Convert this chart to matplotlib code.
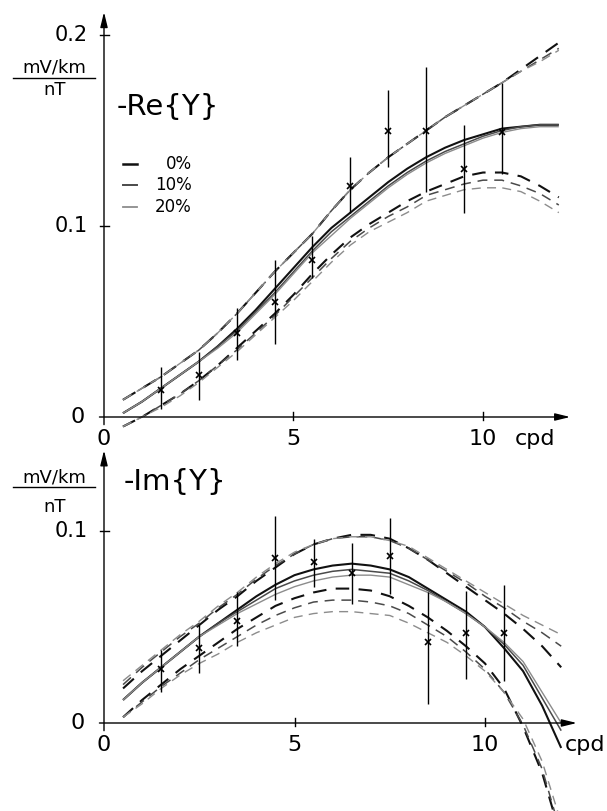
"""Re{Y} / Im{Y} response curves with error bars, two stacked panels."""

import matplotlib.pyplot as plt
from matplotlib.lines import Line2D

W, H = 607, 811

# --- data -----------------------------------------------------------------
X_GRID = [0.5, 1.0, 1.5, 2.0, 2.5, 3.0, 3.5, 4.0, 4.5, 5.0, 5.5, 6.0,
          6.5, 7.0, 7.5, 8.0, 8.5, 9.0, 9.5, 10.0, 10.5, 11.0, 11.5, 12.0]
X_DATA = [1.5, 2.5, 3.5, 4.5, 5.5, 6.5, 7.5, 8.5, 9.5, 10.5]
LEVELS = ["0%", "10%", "20%"]

# top panel: -Re{Y}
re_obs = [0.014, 0.022, 0.044, 0.060, 0.082, 0.121, 0.150, 0.150, 0.130, 0.149]
re_lo = [0.004, 0.009, 0.030, 0.038, 0.073, 0.107, 0.131, 0.118, 0.107, 0.127]
re_hi = [0.026, 0.034, 0.057, 0.082, 0.095, 0.136, 0.171, 0.183, 0.153, 0.175]

re_solid = {
    "0%": [0.002, 0.008, 0.015, 0.022, 0.029, 0.037, 0.046, 0.056, 0.067, 0.078, 0.089, 0.099,
           0.107, 0.115, 0.123, 0.130, 0.136, 0.141, 0.145, 0.148, 0.151, 0.152, 0.153, 0.153],
    "10%": [0.002, 0.008, 0.015, 0.022, 0.029, 0.037, 0.045, 0.055, 0.065, 0.076, 0.087, 0.097,
            0.105, 0.113, 0.121, 0.128, 0.134, 0.139, 0.143, 0.147, 0.150, 0.152, 0.153, 0.153],
    "20%": [0.002, 0.008, 0.015, 0.022, 0.029, 0.036, 0.044, 0.054, 0.064, 0.075, 0.086, 0.095,
            0.104, 0.112, 0.120, 0.127, 0.133, 0.138, 0.142, 0.146, 0.149, 0.151, 0.152, 0.152],
}
re_upper = {
    "0%": [0.009, 0.015, 0.021, 0.028, 0.035, 0.044, 0.054, 0.065, 0.076, 0.086, 0.096, 0.108,
           0.119, 0.128, 0.136, 0.143, 0.150, 0.157, 0.163, 0.169, 0.175, 0.182, 0.189, 0.196],
    "10%": [0.009, 0.015, 0.021, 0.028, 0.035, 0.044, 0.054, 0.065, 0.076, 0.086, 0.096, 0.108,
            0.119, 0.128, 0.136, 0.143, 0.150, 0.157, 0.163, 0.169, 0.175, 0.181, 0.187, 0.193],
    "20%": [0.009, 0.015, 0.021, 0.028, 0.035, 0.044, 0.054, 0.065, 0.076, 0.086, 0.096, 0.108,
            0.119, 0.128, 0.136, 0.143, 0.150, 0.157, 0.163, 0.169, 0.175, 0.181, 0.186, 0.192],
}
re_lower = {
    "0%": [-0.005, 0.000, 0.006, 0.012, 0.019, 0.027, 0.036, 0.045, 0.054, 0.064, 0.075, 0.085,
           0.094, 0.101, 0.107, 0.113, 0.118, 0.122, 0.126, 0.128, 0.128, 0.126, 0.121, 0.115],
    "10%": [-0.005, 0.000, 0.006, 0.012, 0.019, 0.027, 0.035, 0.044, 0.053, 0.063, 0.073, 0.083,
            0.092, 0.099, 0.105, 0.110, 0.116, 0.119, 0.122, 0.124, 0.124, 0.121, 0.117, 0.111],
    "20%": [-0.005, 0.000, 0.005, 0.011, 0.018, 0.026, 0.034, 0.043, 0.052, 0.061, 0.071, 0.081,
            0.090, 0.097, 0.102, 0.107, 0.113, 0.116, 0.119, 0.120, 0.120, 0.118, 0.113, 0.107],
}

# bottom panel: -Im{Y}
im_obs = [0.028, 0.039, 0.053, 0.086, 0.084, 0.078, 0.087, 0.042, 0.047, 0.047]
im_lo = [0.016, 0.026, 0.040, 0.064, 0.071, 0.062, 0.067, 0.010, 0.023, 0.022]
im_hi = [0.038, 0.051, 0.068, 0.108, 0.096, 0.094, 0.107, 0.068, 0.069, 0.072]

im_solid = {
    "0%": [0.012, 0.021, 0.029, 0.037, 0.045, 0.052, 0.059, 0.066, 0.072, 0.077, 0.080, 0.082,
           0.083, 0.082, 0.080, 0.076, 0.070, 0.064, 0.058, 0.050, 0.039, 0.027, 0.009, -0.013],
    "10%": [0.012, 0.021, 0.029, 0.037, 0.045, 0.052, 0.058, 0.064, 0.070, 0.074, 0.077, 0.079,
            0.080, 0.079, 0.078, 0.074, 0.069, 0.063, 0.057, 0.050, 0.041, 0.030, 0.013, -0.004],
    "20%": [0.012, 0.021, 0.029, 0.037, 0.045, 0.051, 0.057, 0.062, 0.067, 0.071, 0.074, 0.076,
            0.077, 0.077, 0.076, 0.072, 0.068, 0.063, 0.057, 0.050, 0.042, 0.032, 0.016, 0.000],
}
im_upper = {
    "0%": [0.018, 0.027, 0.035, 0.043, 0.051, 0.059, 0.066, 0.074, 0.081, 0.088, 0.093, 0.096,
           0.098, 0.098, 0.096, 0.091, 0.085, 0.078, 0.071, 0.064, 0.057, 0.049, 0.040, 0.029],
    "10%": [0.020, 0.029, 0.037, 0.045, 0.052, 0.060, 0.067, 0.075, 0.082, 0.088, 0.093, 0.096,
            0.097, 0.097, 0.095, 0.091, 0.085, 0.079, 0.073, 0.066, 0.060, 0.053, 0.047, 0.040],
    "20%": [0.022, 0.030, 0.038, 0.046, 0.053, 0.061, 0.068, 0.076, 0.083, 0.089, 0.093, 0.096,
            0.097, 0.097, 0.095, 0.092, 0.086, 0.080, 0.074, 0.068, 0.062, 0.056, 0.051, 0.046],
}
im_lower = {
    "0%": [0.003, 0.012, 0.020, 0.028, 0.035, 0.042, 0.049, 0.055, 0.061, 0.065, 0.068, 0.070,
           0.070, 0.069, 0.066, 0.061, 0.055, 0.048, 0.040, 0.031, 0.018, -0.002, -0.026, -0.060],
    "10%": [0.003, 0.011, 0.019, 0.026, 0.033, 0.039, 0.045, 0.051, 0.056, 0.060, 0.063, 0.064,
            0.064, 0.063, 0.061, 0.057, 0.051, 0.045, 0.037, 0.028, 0.016, -0.001, -0.024, -0.058],
    "20%": [0.003, 0.010, 0.018, 0.025, 0.031, 0.036, 0.042, 0.047, 0.051, 0.055, 0.057, 0.058,
            0.058, 0.057, 0.056, 0.052, 0.047, 0.042, 0.035, 0.027, 0.016, 0.002, -0.020, -0.052],
}

STYLE = {
    "0%": dict(color="#111111", lw=1.5),
    "10%": dict(color="#4a4a4a", lw=1.1),
    "20%": dict(color="#8c8c8c", lw=1.0),
}

plt.rcParams["font.family"] = ["DejaVu Sans"]

fig = plt.figure(figsize=(W / 100, H / 100), dpi=100)


def px_axes(left, top, right, bottom):
    return fig.add_axes([left / W, 1 - bottom / H, (right - left) / W, (bottom - top) / H])


def px_text(x, y, s, **kw):
    fig.text(x / W, 1 - y / H, s, **kw)


def px_line(x0, x1, y0, y1, **kw):
    fig.add_artist(Line2D([x0 / W, x1 / W], [1 - y0 / H, 1 - y1 / H], **kw))


def draw_panel(ax, solid, upper, lower, obs, lo, hi, x_tip, y_tip, yticks, cpd_x, base_y):
    ax.axis("off")
    for lev in LEVELS:
        st = STYLE[lev]
        ax.plot(X_GRID, solid[lev], color=st["color"], lw=st["lw"], solid_capstyle="butt")
        ax.plot(X_GRID, upper[lev], color=st["color"], lw=st["lw"], dashes=(7.0, 4.5))
        ax.plot(X_GRID, lower[lev], color=st["color"], lw=st["lw"], dashes=(6.5, 4.5))
    ax.vlines(X_DATA, lo, hi, color="black", lw=1.0)
    ax.plot(X_DATA, obs, "x", color="black", ms=4, mew=1.2)

    arrow = dict(arrowstyle="-|>,head_length=0.9,head_width=0.22", color="black",
                 lw=1.0, shrinkA=0, shrinkB=0)
    ax.annotate("", xy=(x_tip, 0), xytext=(-0.12, 0), arrowprops=arrow)
    ax.annotate("", xy=(0, y_tip), xytext=(0, -0.004), arrowprops=arrow)

    for xt in [5, 10]:
        ax.plot([xt, xt], [-0.0015, 0.0028], color="black", lw=1.0)
    for yt in yticks:
        ax.plot([-0.1, 0.12], [yt, yt], color="black", lw=1.0)
        ax.text(-0.42, yt, f"{yt:g}", ha="right", va="center", fontsize=15)
    ax.text(-0.5, 0, "0", ha="right", va="center", fontsize=16)
    ax.text(0, base_y, "0", ha="center", va="baseline", fontsize=16)
    ax.text(5, base_y, "5", ha="center", va="baseline", fontsize=16)
    ax.text(10, base_y, "10", ha="center", va="baseline", fontsize=16)
    ax.text(cpd_x, base_y, "cpd", ha="center", va="baseline", fontsize=16)


# top panel: 37.9 px per cpd, 1910 px per unit
ax1 = px_axes(104 - 0.3 * 37.9, 417 - 0.215 * 1910, 104 + 12.8 * 37.9, 417 + 0.012 * 1910)
ax1.set_xlim(-0.3, 12.8)
ax1.set_ylim(-0.012, 0.215)
draw_panel(ax1, re_solid, re_upper, re_lower, re_obs, re_lo, re_hi,
           12.3, 0.212, [0.1, 0.2], 11.37, -0.0147)

# bottom panel: 38.1 px per cpd, 1920 px per unit
ax2 = px_axes(104 - 0.3 * 38.1, 723 - 0.145 * 1920, 104 + 12.8 * 38.1, 723 + 0.0458 * 1920)
ax2.set_xlim(-0.3, 12.8)
ax2.set_ylim(-0.0458, 0.145)
draw_panel(ax2, im_solid, im_upper, im_lower, im_obs, im_lo, im_hi,
           12.41, 0.142, [0.1], 12.62, -0.0145)

# unit labels and titles
for cy, uy, ny in [(68, 78, 90), (477, 487, 507)]:
    px_text(54, cy, "mV/km", ha="center", va="center", fontsize=13)
    px_line(13, 95, uy, uy, color="black", lw=1.0)
    px_text(55, ny, "nT", ha="center", va="center", fontsize=13)
px_text(117, 107, "-Re{Y}", ha="left", va="center", fontsize=21)
px_text(124, 482, "-Im{Y}", ha="left", va="center", fontsize=21)

# legend
for lev, ry in zip(LEVELS, [164, 185, 207]):
    px_line(123, 137, ry, ry, color=STYLE[lev]["color"], lw=STYLE[lev]["lw"] + 0.3)
    px_text(192, ry, lev, ha="right", va="center", fontsize=12)

fig.savefig("out.png", dpi=100, facecolor="white")
